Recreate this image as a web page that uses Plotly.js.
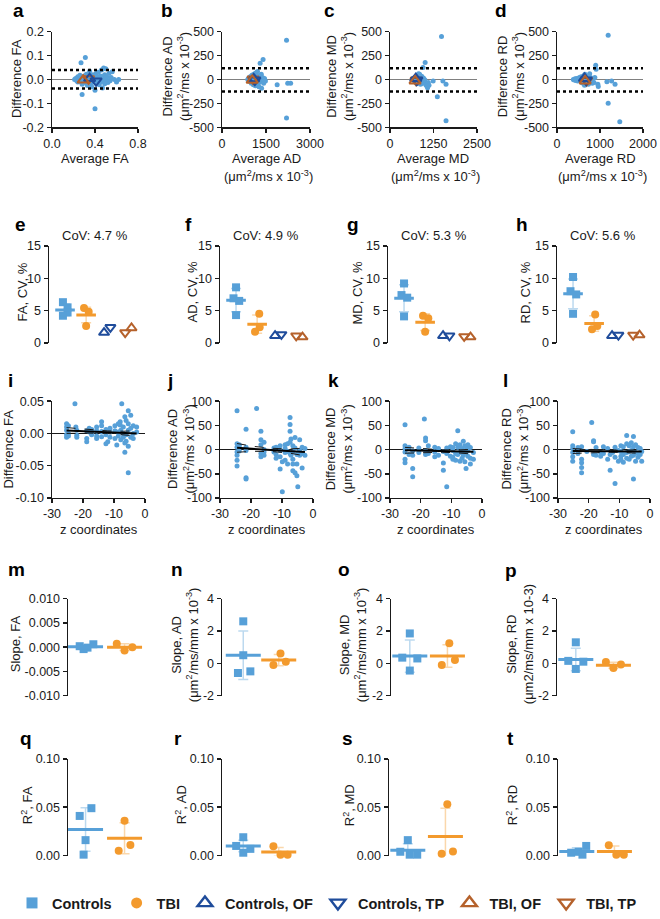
<!DOCTYPE html>
<html>
<head>
<meta charset="utf-8">
<script src="https://cdn.plot.ly/plotly-3.0.1.min.js"></script>
<style>
  html, body { margin: 0; padding: 0; background: #fff; }
  #chart { width: 660px; height: 919px; }
</style>
</head>
<body>
<div id="chart"></div>
<script>
// ---- row 1: Bland-Altman (difference vs average) ----
const faAvg = [
  0.21,0.22,0.23,0.24,0.24,0.25,0.26,0.26,0.27,0.27,
  0.28,0.28,0.28,0.29,0.29,0.30,0.30,0.31,0.31,0.32,
  0.32,0.33,0.33,0.34,0.34,0.35,0.35,0.36,0.36,0.37,
  0.37,0.38,0.38,0.39,0.39,0.40,0.40,0.41,0.41,0.42,
  0.42,0.43,0.43,0.44,0.44,0.45,0.45,0.46,0.46,0.47,
  0.47,0.48,0.48,0.49,0.49,0.50,0.50,0.51,0.52,0.53,
  0.54,0.55,0.56,0.58,0.60,0.62,0.36,0.40,0.44,0.30];
const faDiff = [
  0.000,0.004,-0.005,0.012,-0.010,0.002,0.018,-0.008,0.070,0.005,
  -0.062,0.010,-0.020,0.003,-0.012,0.015,-0.004,0.092,0.000,0.022,
  -0.015,0.008,-0.025,0.012,-0.006,0.035,0.004,-0.018,0.010,0.000,
  -0.030,0.020,0.006,-0.010,0.015,-0.122,-0.045,0.025,0.003,-0.015,
  0.010,0.030,-0.005,0.008,-0.022,0.015,-0.010,0.040,0.002,-0.035,
  0.012,0.048,-0.008,0.020,-0.018,0.045,0.000,0.010,-0.012,0.025,
  -0.005,0.008,0.032,0.000,-0.010,0.000,0.004,-0.006,0.002,-0.002];

const adAvg = [
  880,900,920,940,950,960,980,990,1000,1010,
  1020,1030,1040,1050,1060,1070,1080,1090,1100,1110,
  1120,1130,1140,1150,1160,1170,1180,1190,1200,1210,
  1220,1230,1240,1250,1260,1280,1300,1320,1340,1350,
  1380,1400,1420,1450,1480,1000,1050,1100,1150,1200,
  1250,1300,1880,2200,2200,2240,2340,1060,1140,1260];
const adDiff = [
  0,10,-15,20,-5,30,-20,5,-40,15,
  45,-10,25,-30,8,-55,12,35,-25,60,
  -8,18,-45,5,70,-12,22,-60,10,85,
  -18,40,-35,15,-75,30,170,-20,55,-90,
  20,210,-40,10,-15,-5,20,-25,12,-8,
  -30,5,-55,410,-400,-38,-40,50,-65,25];

const mdAvg = [
  640,660,680,690,700,710,720,730,740,750,
  760,770,780,790,800,810,820,830,840,850,
  860,870,880,890,900,910,920,930,940,960,
  980,1000,950,1030,1010,1080,1100,1120,1240,1360,
  1480,1520,1610,1610,720,760,800,840,880,920,
  960,1000,1060,820,780];
const mdDiff = [
  0,8,-10,15,-5,20,-15,5,-25,10,
  30,-8,45,-20,12,-35,6,25,-12,55,
  -30,10,-50,18,-5,35,-20,8,-40,15,
  -10,-30,125,-55,177,-85,-30,-60,-14,-180,
  448,-14,-430,-48,3,-3,5,-6,2,-4,
  6,-2,-70,60,-40];

const rdAvg = [
  380,400,420,440,460,480,500,520,540,560,
  570,580,590,600,610,620,630,640,650,660,
  670,680,690,700,710,720,730,740,750,760,
  780,800,820,840,900,910,950,960,1160,1190,
  1190,1270,1350,1460,500,560,620,680,740,600,
  650,700,860,880,640];
const rdDiff = [
  0,-5,8,-10,12,-15,5,20,-8,30,
  -20,10,-35,15,-5,40,-25,8,55,-12,
  18,-45,6,25,-30,12,-50,35,-10,60,
  -20,15,-40,10,150,108,-50,-73,-24,462,
  -247,-14,-48,-441,3,-4,5,-3,2,-6,
  4,-2,-30,20,-60];

// limits of agreement (upper, lower) for FA, AD, MD, RD
const loaUpper = [0.040, 118, 118, 118];
const loaLower = [-0.0375, -125, -125, -125];

// group means shown as open triangles in a-d (FA, AD, MD, RD)
const baCtrlOFx = [0.35, 1080, 740, 640];  const baCtrlOFy = [0.004, 8, 10, 12];
const baCtrlTPx = [0.41, 1120, 770, 680];  const baCtrlTPy = [-0.006, -5, -5, -5];
const baTbiOFx  = [0.29, 1030, 720, 655];  const baTbiOFy  = [-0.002, -8, -15, -15];
const baTbiTPx  = [0.34, 1060, 750, 690];  const baTbiTPy  = [0.003, 5, -8, -10];

// ---- row 2: CV per group (FA, AD, MD, RD) ----
const cvCtrl = [[6.3,5.5,4.7,4.2],[8.6,6.9,6.5,4.3],[9.2,7.4,7.0,4.1],[10.2,8.0,7.5,4.5]];
const cvCtrlX = [[0.9,1.12,1.12,0.9],[1,0.88,1.15,1],[1,0.88,1.15,1],[1,0.88,1.15,1]];
const cvCtrlMean = [5.1, 6.6, 6.9, 7.6];
const cvCtrlSD = [0.9, 1.8, 2.1, 2.3];
const cvTbi = [[5.4,4.8,2.6],[4.5,2.4,1.7],[4.2,3.8,1.7],[4.4,2.6,2.1]];
const cvTbiX = [[1.9,2.12,2.0],[2.1,2.12,1.9],[1.9,2.15,2.0],[2.05,2.15,1.9]];
const cvTbiMean = [4.3, 2.9, 3.2, 3.0];
const cvTbiSD = [1.2, 1.4, 1.3, 1.2];
const cvCtrlOF = [1.6, 1.1, 1.1, 1.1];
const cvCtrlTP = [2.4, 1.3, 1.1, 1.2];
const cvTbiOF = [2.3, 0.9, 0.9, 1.2];
const cvTbiTP = [1.6, 1.1, 1.0, 1.2];
const cvTitles = ['CoV: 4.7 %', 'CoV: 4.9 %', 'CoV: 5.3 %', 'CoV: 5.6 %'];

// ---- row 3: difference vs z coordinate ----
const iZ = [
  -25.3,-25.3,-25.3,-25.3,-25.3,-24.7,-24.7,-24.7,-22.6,-22.3,
  -22.0,-22.0,-22.0,-18.8,-18.8,-18.8,-18.0,-18.0,-17.2,-17.2,
  -17.2,-15.6,-15.6,-15.6,-15.6,-14.0,-14.0,-14.0,-14.0,-12.6,
  -12.6,-12.6,-12.0,-11.3,-11.3,-11.3,-9.7,-9.7,-9.7,-9.1,
  -8.6,-8.6,-8.6,-8.0,-8.0,-7.8,-7.8,-7.5,-7.0,-7.0,
  -7.0,-6.5,-6.5,-6.1,-6.1,-6.1,-5.4,-5.4,-5.4,-5.4,
  -4.6,-4.6,-4.6,-3.8,-3.8,-3.8,-2.7,-2.7,-6.5,-5.4];
const iD = [
  0.015,0.010,0.005,-0.002,-0.006,0.012,0.000,-0.004,0.046,0.010,
  0.005,-0.003,-0.006,0.004,-0.013,-0.008,0.008,0.002,0.006,-0.002,
  0.000,0.010,0.004,-0.004,-0.008,0.018,0.003,-0.005,0.012,0.006,
  -0.002,-0.016,-0.013,0.008,0.002,-0.006,0.012,0.004,-0.008,-0.018,
  0.002,0.015,-0.004,0.018,0.013,0.005,-0.010,0.046,0.010,0.000,
  -0.006,0.026,-0.029,0.020,-0.002,-0.012,0.035,0.015,0.005,-0.061,
  0.028,0.008,-0.006,0.012,0.000,-0.008,0.010,0.002,-0.015,-0.020];

const jZ = [
  -24.5,-24.5,-24.5,-24.5,-24.5,-24.5,-24.5,-23.8,-23.8,-23.8,
  -21.6,-21.6,-21.6,-21.6,-21.6,-18.2,-16.8,-16.8,-16.8,-16.8,
  -16.8,-15.8,-15.8,-15.8,-15.8,-12.6,-12.6,-11.9,-11.9,-11.9,
  -10.6,-10.6,-10.6,-10.6,-9.9,-9.0,-9.0,-9.0,-9.0,-8.2,
  -8.2,-8.2,-7.4,-7.4,-7.4,-7.4,-7.4,-7.1,-7.1,-6.5,
  -6.5,-6.5,-6.5,-5.8,-5.8,-5.8,-5.2,-5.2,-5.2,-4.9,
  -4.3,-4.3,-4.3,-3.5,-3.5,-3.5,-2.6,-2.6,-6.5,-9.9];
const jD = [
  80,12,5,-5,-12,-22,-34,8,-3,10,
  42,-2,-58,-61,5,85,38,20,10,-8,
  -15,15,0,-5,-12,-5,3,-10,5,-18,
  -40,8,-2,-15,-87,10,2,-6,-22,12,
  -4,-30,66,52,38,15,-8,22,-12,8,
  -5,-20,-44,25,3,-48,-10,-30,-54,-77,
  -2,-12,20,-38,5,-8,-12,2,-30,-25];

const kZ = [
  -25.1,-25.1,-25.1,-25.1,-25.1,-25.1,-23.8,-23.8,-22.6,-22.6,
  -22.6,-22.6,-20.6,-20.6,-18.8,-18.4,-18.4,-18.4,-18.4,-17.5,
  -17.5,-15.4,-15.4,-15.4,-14.2,-14.2,-12.6,-12.6,-12.6,-11.5,
  -11.5,-11.5,-10.3,-10.3,-9.5,-9.5,-9.5,-8.6,-8.6,-8.6,
  -7.9,-7.9,-7.9,-7.2,-7.2,-7.2,-6.5,-6.5,-6.1,-6.1,
  -6.1,-5.6,-5.6,-5.2,-5.2,-5.2,-4.6,-4.6,-4.6,-3.8,
  -3.8,-3.8,-2.8,-2.8,-9.5];
const kD = [
  51,8,2,-5,-20,-27,5,-10,-3,-12,
  -39,-56,3,-6,63,24,18,-2,-10,8,
  -8,5,-5,-15,2,-12,-4,-28,-43,-77,
  -8,3,-14,6,-2,-20,4,12,-8,-22,
  39,5,-10,-6,10,-24,2,-18,17,-4,
  -12,8,-25,-39,-6,6,-14,10,-2,-18,
  4,-30,-20,-6,-16];

const lZ = [
  -25.2,-25.2,-25.2,-25.2,-25.2,-25.2,-23.5,-23.5,-22.3,-22.3,
  -22.3,-22.3,-22.3,-20.6,-19.0,-18.4,-18.4,-18.4,-17.6,-17.6,
  -16.1,-16.1,-15.2,-15.2,-13.8,-13.8,-13.0,-13.0,-12.2,-11.4,
  -11.4,-11.4,-10.3,-10.3,-9.5,-9.5,-9.5,-8.7,-8.7,-8.7,
  -7.6,-7.6,-7.6,-7.6,-6.8,-6.8,-6.8,-6.1,-6.1,-6.1,
  -5.4,-5.4,-5.4,-5.4,-4.7,-4.7,-4.7,-3.9,-3.9,-3.9,
  -3.2,-3.2,-2.7,-2.7,-9.5];
const lD = [
  37,8,2,-6,-15,-24,4,-8,-20,-27,
  -37,-48,6,-4,56,18,16,-10,4,-12,
  -6,-14,6,-8,2,-20,-43,-10,-6,-70,
  5,-16,-2,-24,8,-4,-14,6,-10,-26,
  29,12,-6,-18,8,-4,-20,14,-2,-14,
  27,6,-12,-61,10,-6,-24,4,-8,-16,
  2,-10,-24,-4,-20];

// regression fit and 95% band (z, fit, upper, lower)
const fitZ = [[-25.3,-19,-12,-7,-2.7],[-24.5,-19,-13,-8,-2.6],[-25.1,-19,-13,-8,-2.8],[-25.2,-19,-13,-8,-2.7]];
const fitY = [[0.0045,0.0033,0.0019,0.0009,0.0],[3.5,1.4,-0.9,-2.9,-5],[-1.5,-2.3,-3.1,-3.8,-4.5],[-3.0,-3.3,-3.5,-3.8,-4.0]];
const fitUp = [[0.009,0.0061,0.0039,0.0034,0.004],[12.5,6.4,2.6,1.1,3],[4.5,1.2,-0.6,-0.8,0.5],[2.0,-0.3,-1.5,-1.3,0.0]];
const fitLo = [[0.0,0.0005,-0.0001,-0.0016,-0.004],[-5.5,-3.6,-4.4,-6.9,-13],[-7.5,-5.8,-5.6,-6.8,-9.5],[-8.0,-6.3,-5.5,-6.3,-8.0]];

// ---- row 4: slopes; row 5: R^2 (FA, AD, MD, RD) ----
const slCtrl = [[0.0006,0.0002,-0.0001,-0.0004],[2.6,0.5,-0.5,-0.6],[1.85,0.35,0.3,-0.45],[1.3,0.15,0.1,-0.35]];
const slCtrlX = [[1.2,0.85,1.05,0.95],[1,1,1.2,0.85],[1,0.8,1.2,1],[1,0.8,1.2,1]];
const slCtrlMean = [0.0001, 0.5, 0.45, 0.24];
const slCtrlSD = [0.0004, 1.5, 1.0, 0.7];
const slTbi = [[0.0007,-0.0007,0.0],[0.6,-0.1,0.1],[1.25,0.2,-0.1],[0.08,-0.29,-0.08]];
const slTbiX = [[1.8,2.0,2.2],[2.05,1.85,2.2],[2.05,2.2,1.85],[1.8,2.0,2.2]];
const slTbiMean = [0.0, 0.2, 0.45, -0.12];
const slTbiSD = [0.0007, 0.35, 0.7, 0.18];

const r2Ctrl = [[0.049,0.041,0.016,0.001],[0.019,0.010,0.007,0.003],[0.016,0.004,0.001,0.001],[0.010,0.004,0.003,0.001]];
const r2CtrlX = [[1.15,0.85,1.0,0.95],[1.0,0.8,1.2,1.0],[1.0,0.8,1.05,1.25],[1.25,1.05,0.85,1.15]];
const r2CtrlMean = [0.027, 0.010, 0.0055, 0.0044];
const r2CtrlSD = [0.0225, 0.006, 0.0068, 0.0037];
const r2Tbi = [[0.036,0.011,0.005],[0.0096,0.001,0.001],[0.053,0.0044,0.002],[0.0106,0.001,0.001]];
const r2TbiX = [[2.0,2.15,1.85],[1.85,2.05,2.25],[2.05,2.2,1.9],[1.85,2.05,2.25]];
const r2TbiMean = [0.018, 0.0038, 0.0198, 0.0044];
const r2TbiSD = [0.016, 0.0045, 0.0292, 0.0055];

// tick labels
const faBaTicks = [-0.2,-0.1,0,0.1,0.2];   const faBaText = ['-0.2','-0.1','0.0','0.1','0.2'];
const diffTicks = [-500,-250,0,250,500];   const diffText = ['-500','-250','0','250','500'];
const cvTicks = [0,5,10,15];
const zTicks = [-30,-20,-10,0];            const zText = ['-30','-20','-10','0'];
const iTicks = [-0.1,-0.05,0,0.05];        const iText = ['-0.10','-0.05','0.00','0.05'];
const zdTicks = [-100,-50,0,50,100];       const zdText = ['-100','-50','0','50','100'];
const mTicks = [-0.01,-0.005,0,0.005,0.01]; const mText = ['-0.010','-0.005','0.000','0.005','0.010'];
const slTicks = [-2,0,2,4];                const slText = ['-2','0','2','4'];
const r2Ticks = [0,0.05,0.1];              const r2Text = ['0.00','0.05','0.10'];

// ---- drawing ----
const W = 660, H = 919;
const FONT = '"Liberation Sans", Arial, sans-serif';
const INK = '#1a1a1a';
const C_CTRL = '#57A0D8';
const C_TBI = '#F39A2D';
const C_CTRL_DARK = '#1F4C9B';
const C_TBI_DARK = '#B5612B';
const ERR_CTRL = 'rgba(87,160,216,0.4)';
const ERR_TBI = 'rgba(243,154,45,0.4)';

const data = [];
const layout = {
  width: W, height: H,
  margin: { l: 0, r: 0, t: 0, b: 0 },
  paper_bgcolor: '#fff', plot_bgcolor: 'rgba(0,0,0,0)',
  font: { family: FONT, size: 13, color: INK },
  showlegend: true,
  legend: {
    orientation: 'h', x: 12 / W, xanchor: 'left', y: 1 - 914 / H, yanchor: 'middle',
    font: { family: FONT, size: 14.5, color: INK, weight: 'bold' },
    bgcolor: 'rgba(0,0,0,0)', itemsizing: 'trace', traceorder: 'normal',
  },
  annotations: [],
  shapes: [],
};

const axisBase = {
  showline: true, linecolor: INK, linewidth: 1.5,
  ticks: 'outside', ticklen: 4, tickwidth: 1.5, tickcolor: INK,
  showgrid: false, zeroline: false, fixedrange: true,
  tickfont: { family: FONT, size: 12.5, color: INK },
};

const ids = n => (n === 1 ? ['x', 'y', ''] : ['x' + n, 'y' + n, n]);

function setAxes(n, box, xopt, yopt) {
  const [xa, ya, s] = ids(n);
  layout['xaxis' + s] = Object.assign({}, axisBase, { domain: [box[0] / W, box[1] / W], anchor: ya }, xopt);
  layout['yaxis' + s] = Object.assign({}, axisBase, { domain: [1 - box[3] / H, 1 - box[2] / H], anchor: xa }, yopt);
}

function addTrace(n, t) {
  const [xa, ya] = ids(n);
  data.push(Object.assign({ xaxis: xa, yaxis: ya, showlegend: false, hoverinfo: 'skip', cliponaxis: false }, t));
}

function note(x, y, text, opt) {
  layout.annotations.push(Object.assign({
    xref: 'paper', yref: 'paper', x: x / W, y: 1 - y / H, text: text, showarrow: false,
    xanchor: 'center', yanchor: 'middle', font: { family: FONT, size: 13, color: INK },
  }, opt || {}));
}
const letter = (x, y, t) => note(x, y, t, { font: { family: FONT, size: 19, color: '#000', weight: 'bold' } });
const ytitle = (x, y, t) => note(x, y, t, { textangle: -90 });

const UNITS = '(μm<sup>2</sup>/ms x 10<sup>-3</sup>)';
const tri = (sym, color) => ({ symbol: sym, size: 10, color: color, line: { color: color, width: 2 } });

// row 1
const baX = [faAvg, adAvg, mdAvg, rdAvg];
const baY = [faDiff, adDiff, mdDiff, rdDiff];
const baBoxes = [[52,138,32,129],[222,310,32,129],[390,477,32,129],[557,643,32,129]];
const baXRange = [[0,0.8],[0,3000],[0,2500],[0,2000]];
const baXTicks = [[0,0.4,0.8],[0,1500,3000],[0,1250,2500],[0,1000,2000]];
const baXText = [['0.0','0.4','0.8'],['0','1500','3000'],['0','1250','2500'],['0','1000','2000']];
for (let k = 0; k < 4; k++) {
  const n = k + 1;
  setAxes(n, baBoxes[k],
    { range: baXRange[k], tickvals: baXTicks[k], ticktext: baXText[k] },
    k === 0
      ? { range: [-0.2, 0.2], tickvals: faBaTicks, ticktext: faBaText, zeroline: true, zerolinecolor: '#808080', zerolinewidth: 1.2 }
      : { range: [-500, 500], tickvals: diffTicks, ticktext: diffText, zeroline: true, zerolinecolor: '#808080', zerolinewidth: 1.2 });
  addTrace(n, { x: baX[k], y: baY[k], mode: 'markers', marker: { color: C_CTRL, size: 5 } });
  addTrace(n, { x: [baTbiTPx[k]], y: [baTbiTPy[k]], mode: 'markers', marker: tri('triangle-down-open', C_TBI_DARK) });
  addTrace(n, { x: [baCtrlOFx[k]], y: [baCtrlOFy[k]], mode: 'markers', marker: tri('triangle-up-open', C_CTRL_DARK) });
  addTrace(n, { x: [baCtrlTPx[k]], y: [baCtrlTPy[k]], mode: 'markers', marker: tri('triangle-down-open', C_CTRL_DARK) });
  addTrace(n, { x: [baTbiOFx[k]], y: [baTbiOFy[k]], mode: 'markers', marker: tri('triangle-up-open', C_TBI_DARK) });
  const [xa, ya] = ids(n);
  [loaUpper[k], loaLower[k]].forEach(v => layout.shapes.push({
    type: 'line', xref: xa + ' domain', x0: 0, x1: 1, yref: ya, y0: v, y1: v,
    line: { color: '#000', width: 2.6, dash: 'dot' },
  }));
}
letter(18, 11, 'a'); letter(167, 11, 'b'); letter(329, 11, 'c'); letter(501, 11, 'd');
ytitle(16, 80, 'Difference FA');
ytitle(176, 78, 'Difference AD<br>' + UNITS);
ytitle(340, 78, 'Difference MD<br>' + UNITS);
ytitle(511, 78, 'Difference RD<br>' + UNITS);
note(95, 160, 'Average FA');
note(266, 160, 'Average AD'); note(268, 178, UNITS);
note(433, 160, 'Average MD'); note(435, 178, UNITS);
note(600, 160, 'Average RD'); note(602, 178, UNITS);

// group scatter with mean line and SD bars
function groupPanel(n, pts, ptsX, mean, sd, center, color, errColor, symbol, size, lineLen) {
  addTrace(n, { x: ptsX, y: pts, mode: 'markers', marker: { symbol: symbol, size: size, color: color } });
  addTrace(n, {
    x: [center], y: [mean], mode: 'markers', cliponaxis: true,
    marker: { symbol: 'line-ew', size: lineLen, color: color, line: { color: color, width: 3 } },
    error_y: { type: 'data', array: [sd], visible: true, color: errColor, thickness: 1.5, width: 5 },
  });
}

// row 2
const cvBoxes = [[49,141,249,347],[220,312,249,347],[388,480,249,347],[557,649,249,347]];
const cvYLabel = ['FA, CV, %', 'AD, CV, %', 'MD, CV, %', 'RD, CV, %'];
const cvLabelX = [22, 192, 357, 525];
const cvLetterX = [20, 188, 353, 522];
for (let k = 0; k < 4; k++) {
  const n = k + 5;
  setAxes(n, cvBoxes[k], { range: [0.24, 4.6], visible: false }, { range: [0, 15], tickvals: cvTicks });
  groupPanel(n, cvCtrl[k], cvCtrlX[k], cvCtrlMean[k], cvCtrlSD[k], 1, C_CTRL, ERR_CTRL, 'square', 8, 14);
  groupPanel(n, cvTbi[k], cvTbiX[k], cvTbiMean[k], cvTbiSD[k], 2, C_TBI, ERR_TBI, 'circle', 8, 14);
  addTrace(n, { x: [2.85], y: [cvCtrlOF[k]], mode: 'markers', marker: Object.assign(tri('triangle-up-open', C_CTRL_DARK), { size: 9 }) });
  addTrace(n, { x: [3.15], y: [cvCtrlTP[k]], mode: 'markers', marker: Object.assign(tri('triangle-down-open', C_CTRL_DARK), { size: 9 }) });
  addTrace(n, { x: [4.15], y: [cvTbiOF[k]], mode: 'markers', marker: Object.assign(tri('triangle-up-open', C_TBI_DARK), { size: 9 }) });
  addTrace(n, { x: [3.85], y: [cvTbiTP[k]], mode: 'markers', marker: Object.assign(tri('triangle-down-open', C_TBI_DARK), { size: 9 }) });
  const cx = (cvBoxes[k][0] + cvBoxes[k][1]) / 2;
  note(cx, 238, cvTitles[k]);
  ytitle(cvLabelX[k], 296, cvYLabel[k]);
  letter(cvLetterX[k], 227, 'efgh'[k]);
}

// row 3
const zX = [iZ, jZ, kZ, lZ];
const zY = [iD, jD, kD, lD];
const zBoxes = [[52,145,406,504],[220,313,406,504],[390,482,406,504],[558,650,406,504]];
for (let k = 0; k < 4; k++) {
  const n = k + 9;
  setAxes(n, zBoxes[k],
    { range: [-30, 0], tickvals: zTicks, ticktext: zText },
    k === 0
      ? { range: [-0.1, 0.05], tickvals: iTicks, ticktext: iText, zeroline: true, zerolinecolor: INK, zerolinewidth: 1.5 }
      : { range: [-100, 100], tickvals: zdTicks, ticktext: zdText, zeroline: true, zerolinecolor: INK, zerolinewidth: 1.5 });
  addTrace(n, { x: zX[k], y: zY[k], mode: 'markers', marker: { color: C_CTRL, size: 5 } });
  addTrace(n, { x: fitZ[k], y: fitUp[k], mode: 'lines', line: { color: INK, width: 1, dash: 'dash' } });
  addTrace(n, { x: fitZ[k], y: fitLo[k], mode: 'lines', line: { color: INK, width: 1, dash: 'dash' } });
  addTrace(n, { x: fitZ[k], y: fitY[k], mode: 'lines', line: { color: '#000', width: 2 } });
  const cx = (zBoxes[k][0] + zBoxes[k][1]) / 2;
  note(cx, 536, 'z coordinates');
}
letter(10, 385, 'i'); letter(170, 385, 'j'); letter(333, 385, 'k'); letter(505, 385, 'l');
ytitle(9, 455, 'Difference FA');
ytitle(181, 455, 'Difference AD<br>' + UNITS);
ytitle(339, 455, 'Difference MD<br>' + UNITS);
ytitle(515, 455, 'Difference RD<br>' + UNITS);

// rows 4 and 5
const slBoxes = [[68,146,606,704],[222,300,606,704],[391,470,606,704],[557,636,606,704]];
const r2Boxes = [[68,146,768,866],[222,300,768,866],[389,468,768,866],[558,637,768,866]];
const colRanges = [[0.55,2.55],[0.4,2.6],[0.5,2.6],[0.5,2.6]];
for (let k = 0; k < 4; k++) {
  const n = k + 13;
  setAxes(n, slBoxes[k], { range: colRanges[k], visible: false },
    k === 0 ? { range: [-0.01, 0.01], tickvals: mTicks, ticktext: mText }
            : { range: [-2, 4], tickvals: slTicks, ticktext: slText });
  groupPanel(n, slCtrl[k], slCtrlX[k], slCtrlMean[k], slCtrlSD[k], 1, C_CTRL, ERR_CTRL, 'square', 8, 25);
  groupPanel(n, slTbi[k], slTbiX[k], slTbiMean[k], slTbiSD[k], 2, C_TBI, ERR_TBI, 'circle', 8, 25);

  const m = k + 17;
  setAxes(m, r2Boxes[k], { range: colRanges[k], visible: false },
    { range: [0, 0.1], tickvals: r2Ticks, ticktext: r2Text });
  groupPanel(m, r2Ctrl[k], r2CtrlX[k], r2CtrlMean[k], r2CtrlSD[k], 1, C_CTRL, ERR_CTRL, 'square', 8, 25);
  groupPanel(m, r2Tbi[k], r2TbiX[k], r2TbiMean[k], r2TbiSD[k], 2, C_TBI, ERR_TBI, 'circle', 8, 25);
}
letter(16, 576, 'm'); letter(177, 576, 'n'); letter(344, 576, 'o'); letter(511, 577, 'p');
ytitle(15, 652, 'Slope, FA');
ytitle(185, 652, 'Slope, AD<br>(μm<sup>2</sup>/ms/mm x 10<sup>-3</sup>)');
ytitle(353, 652, 'Slope, MD<br>(μm<sup>2</sup>/ms/mm x 10<sup>-3</sup>)');
ytitle(520, 652, 'Slope, RD<br>(μm2/ms/mm x 10-3)');
letter(26, 747, 'q'); letter(178, 747, 'r'); letter(347, 747, 's'); letter(510, 747, 't');
ytitle(27, 815, 'R<sup>2</sup>, FA');
ytitle(181, 815, 'R<sup>2</sup>, AD');
ytitle(349, 815, 'R<sup>2</sup>, MD');
ytitle(512, 815, 'R<sup>2</sup>, RD');

// legend entries
const legendNames = ['Controls', 'TBI', 'Controls, OF', 'Controls, TP', 'TBI, OF', 'TBI, TP'];
const legendMarkers = [
  { symbol: 'square', size: 11, color: C_CTRL },
  { symbol: 'circle', size: 11, color: C_TBI },
  { symbol: 'triangle-up-open', size: 13, color: C_CTRL_DARK, line: { color: C_CTRL_DARK, width: 2.4 } },
  { symbol: 'triangle-down-open', size: 13, color: C_CTRL_DARK, line: { color: C_CTRL_DARK, width: 2.4 } },
  { symbol: 'triangle-up-open', size: 13, color: C_TBI_DARK, line: { color: C_TBI_DARK, width: 2.4 } },
  { symbol: 'triangle-down-open', size: 13, color: C_TBI_DARK, line: { color: C_TBI_DARK, width: 2.4 } },
];
legendNames.forEach((name, i) => data.push({
  x: [null], y: [null], xaxis: 'x', yaxis: 'y', mode: 'markers', name: name,
  marker: legendMarkers[i], showlegend: true, hoverinfo: 'skip',
}));

Plotly.newPlot('chart', data, layout, { staticPlot: true, displayModeBar: false });
</script>
</body>
</html>
